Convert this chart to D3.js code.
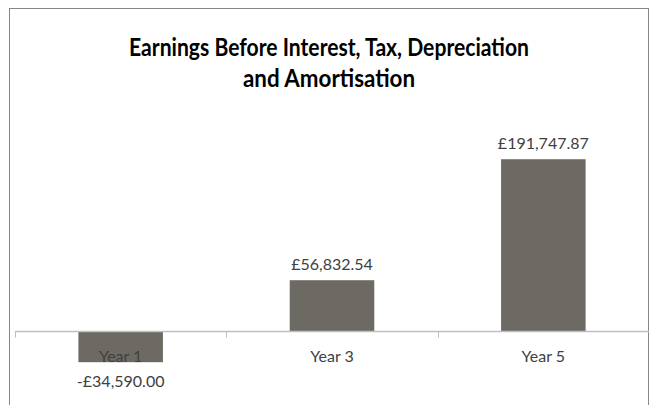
<!DOCTYPE html>
<html>
<head>
<meta charset="utf-8">
<script src="https://cdn.jsdelivr.net/npm/d3@7"></script>
<style>
  html, body { margin: 0; padding: 0; background: #fff; }
  svg { display: block; }
</style>
</head>
<body>
<svg id="chart" width="656" height="405"></svg>
<script>
// EBITDA by year
const categories = ["Year 1", "Year 3", "Year 5"];
const values = [-34590.00, 56832.54, 191747.87];
const valueLabels = ["-£34,590.00", "£56,832.54", "£191,747.87"];
const titleLines = ["Earnings Before Interest, Tax, Depreciation", "and Amortisation"];
const titleWidths = [400, 172];

const svg = d3.select("#chart");
const font = "Lato, 'Open Sans', sans-serif";

// outer chart frame (bottom edge runs off the page)
svg.append("rect")
  .attr("x", 9.5).attr("y", 8.5)
  .attr("width", 639).attr("height", 420)
  .attr("fill", "#fff").attr("stroke", "#868686").attr("stroke-width", 1);

// title, two centred lines
svg.append("g").selectAll("text").data(titleLines).join("text")
  .attr("x", 329).attr("y", (d, i) => 56 + i * 31)
  .attr("text-anchor", "middle")
  .attr("font-family", font).attr("font-weight", "bold")
  .attr("font-size", 24).attr("fill", "#000")
  .attr("textLength", (d, i) => titleWidths[i])
  .attr("lengthAdjust", "spacingAndGlyphs")
  .text(d => d);

const plot = { left: 15, right: 649, top: 107, bottom: 376 };

const x = d3.scaleBand().domain(categories)
  .range([plot.left, plot.right]).paddingInner(0.6).paddingOuter(0.3);
const xOuter = d3.scaleBand().domain(categories).range([plot.left, plot.right]);
const y = d3.scaleLinear().domain([-50000, 250000]).range([plot.bottom, plot.top]);

// bars
svg.append("g").selectAll("rect").data(values).join("rect")
  .attr("x", (d, i) => x(categories[i]))
  .attr("width", x.bandwidth())
  .attr("y", d => y(Math.max(0, d)))
  .attr("height", d => Math.abs(y(d) - y(0)))
  .attr("fill", "#6d6a64");

// category axis at zero
const y0 = Math.round(y(0)) + 0.5;
svg.append("line")
  .attr("x1", plot.left).attr("x2", plot.right)
  .attr("y1", y0).attr("y2", y0)
  .attr("stroke", "#bfbfbf").attr("stroke-width", 1.5);
const tickXs = categories.map(c => xOuter(c));
svg.append("g").selectAll("line").data(tickXs).join("line")
  .attr("x1", d => Math.round(d) + 0.5).attr("x2", d => Math.round(d) + 0.5)
  .attr("y1", y0).attr("y2", y0 + 6)
  .attr("stroke", "#bfbfbf");

// category labels
svg.append("g").selectAll("text").data(categories).join("text")
  .attr("x", d => x(d) + x.bandwidth() / 2)
  .attr("y", y0 + 30)
  .attr("text-anchor", "middle")
  .attr("font-family", font).attr("font-size", 16).attr("fill", "#404040")
  .text(d => d);

// value labels: above positive bars, below negative ones
svg.append("g").selectAll("text").data(values).join("text")
  .attr("x", (d, i) => x(categories[i]) + x.bandwidth() / 2)
  .attr("y", (d, i) => d >= 0 ? y(d) - 10 : y(d) + 25)
  .attr("text-anchor", "middle")
  .attr("font-family", font).attr("font-size", 16).attr("fill", "#404040")
  .text((d, i) => valueLabels[i]);
</script>
</body>
</html>
